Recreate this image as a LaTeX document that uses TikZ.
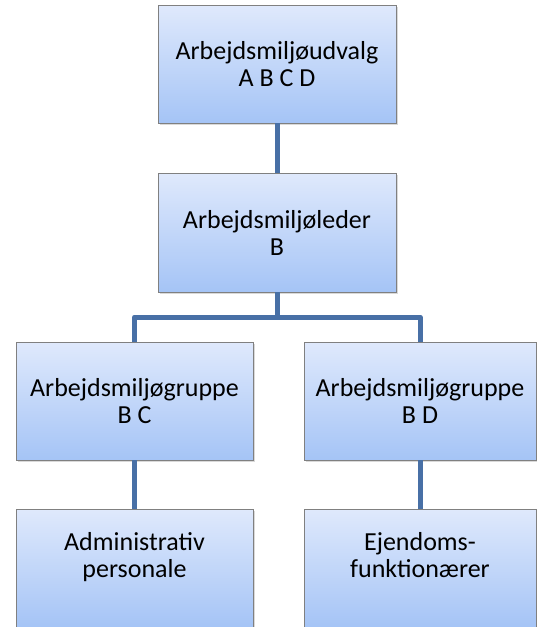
\documentclass[tikz,border=0pt]{standalone}
\usepackage{fontspec}
\setmainfont{Carlito}
\usepackage{xcolor}
\usepackage{tikz}
\usetikzlibrary{
  positioning,
  shadows
}
\definecolor{boxtop}{RGB}{223,233,252}
\definecolor{boxbot}{RGB}{165,196,246}
\definecolor{boxline}{RGB}{128,128,128}
\definecolor{linkblue}{RGB}{72,112,166}

\begin{document}
\begin{tikzpicture}[x=1pt, y=-1pt,
    orgbox/.style={rectangle, draw=boxline, line width=0.8pt,
      top color=boxtop, bottom color=boxbot,
      drop shadow={shadow xshift=2pt, shadow yshift=-2pt, opacity=0.3},
      align=center, inner sep=2pt, minimum height=118pt,
      font=\fontsize{26}{27}\selectfont},
    link/.style={draw=linkblue, line width=5pt, line join=round}]
    \useasboundingbox (0,0) rectangle (536,627);

    % Niveau 1: udvalg
    \node[orgbox, minimum width=238pt] (udvalg) at (277,64) {Arbejdsmiljøudvalg\\A B C D};

    % Niveau 2: leder
    \node[orgbox, minimum width=238pt, minimum height=119pt] (leder) at (277,232.5) {Arbejdsmiljøleder\\B};

    % Niveau 3: grupper
    \node[orgbox, minimum width=237pt] (grpBC) at (134.5,401) {Arbejdsmiljøgruppe\\B C};
    \node[orgbox, minimum width=232pt] (grpBD) at (420,401) {Arbejdsmiljøgruppe\\B D};

    % Niveau 4: personale (bunden skæres af)
    \node[orgbox, minimum width=237pt] (adm) at (134.5,568) {Administrativ\\personale\\~};
    \node[orgbox, minimum width=232pt] (ejd) at (420,568) {Ejendoms-\\funktionærer\\~};

    % Forbindelser
    \coordinate (bus) at (277,317);
    \draw[link] (udvalg.south) -- (leder.north);
    \draw[link] (leder.south) -- (bus);
    \draw[link] (bus) -| (grpBC.north);
    \draw[link] (bus) -| (grpBD.north);
    \draw[link] (grpBC.south) -- (adm.north);
    \draw[link] (grpBD.south) -- (ejd.north);
  \end{tikzpicture}
\end{document}
